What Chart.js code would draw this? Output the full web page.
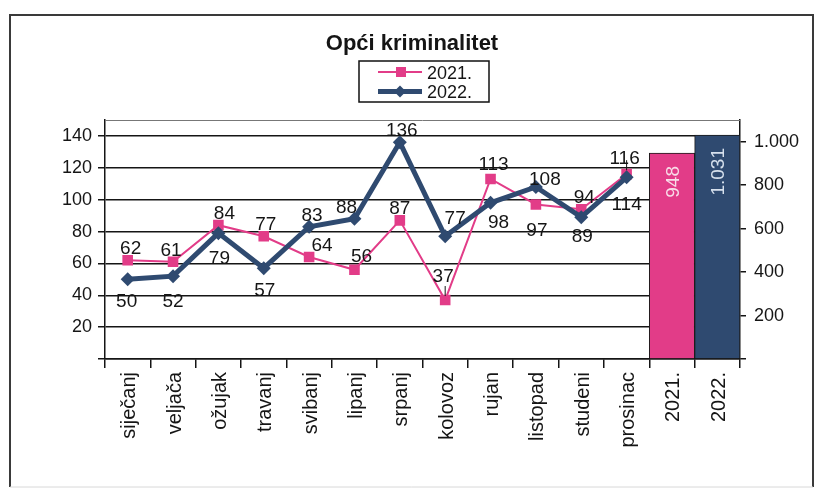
<!DOCTYPE html>
<html><head><meta charset="utf-8">
<script src="https://cdn.jsdelivr.net/npm/chart.js@4/dist/chart.umd.min.js"></script>
<style>html,body{margin:0;padding:0;background:#fff;}#wrap{width:815px;height:489px;}</style>
</head><body><div id="wrap"><canvas id="c" width="815" height="489"></canvas></div>
<script>
// ---- data ----
const categories = ['siječanj','veljača','ožujak','travanj','svibanj','lipanj','srpanj','kolovoz','rujan','listopad','studeni','prosinac','2021.','2022.'];
const months2021 = [62,61,84,77,64,56,87,37,113,97,94,116];
const months2022 = [50,52,79,57,83,88,136,77,98,108,89,114];
const totals = [948, 1031];
const seriesNames = ['2021.','2022.'];
const leftTicks = [20,40,60,80,100,120,140];
const rightTicks = [200,400,600,800,1000];
const chartTitle = 'Opći kriminalitet';

// ---- label placement (layout, not data) ----
const pos2021 = ['a','a','a','a','a','a','a','a','a','b','a','a'];
const dx2021  = [3,-2,6,2,13,7,0,-2,3,1,3,-2];
const dy2021  = [0,0,0,0,0,-2,0,-12,-3,4,0,-4];
const pos2022 = ['b','b','b','b','a','a','a','a','b','a','b','b'];
const dx2022  = [-1,0,1,1,3,-8,2,10,8,9,1,0];
const dy2022  = [0,3,3,0,0,0,0,-6,-2,4,-3,5];

const PINK = '#E23C88', NAVY = '#2F4A70', INK = '#151515';
const FONT = "'Liberation Sans', Arial, sans-serif";
Chart.defaults.font.family = FONT;
Chart.defaults.color = INK;

const fmt = v => String(v).replace(/\B(?=(\d{3})+(?!\d))/g, '.');
const pad = (arr, n) => arr.concat(new Array(n).fill(null));

const framePlugin = {
  id: 'frame',
  beforeDraw(chart) {
    const ctx = chart.ctx;
    ctx.save();
    ctx.fillStyle = '#fff';
    ctx.fillRect(0, 0, chart.width, chart.height);
    ctx.strokeStyle = '#3a3a3a';
    ctx.lineWidth = 2;
    ctx.beginPath();
    ctx.moveTo(10, 487); ctx.lineTo(10, 15); ctx.lineTo(813, 15); ctx.lineTo(813, 487);
    ctx.stroke();
    ctx.strokeStyle = '#d8d8d8';
    ctx.lineWidth = 1;
    ctx.beginPath(); ctx.moveTo(10, 487); ctx.lineTo(813, 487); ctx.stroke();
    ctx.restore();
  },
  beforeDatasetsDraw(chart) {
    const {ctx, chartArea: a} = chart;
    ctx.save();
    ctx.strokeStyle = '#777';
    ctx.lineWidth = 1;
    ctx.beginPath(); ctx.moveTo(a.left, a.top + 0.5); ctx.lineTo(a.right, a.top + 0.5); ctx.stroke();
    ctx.restore();
  }
};

const labelPlugin = {
  id: 'labels',
  afterDatasetsDraw(chart) {
    const ctx = chart.ctx;
    ctx.save();
    ctx.font = '19px ' + FONT;
    ctx.fillStyle = INK;
    ctx.textAlign = 'center';
    ctx.textBaseline = 'alphabetic';
    const cap = 13.6;
    const sets = [
      {idx: 0, vals: months2021, pos: pos2021, dx: dx2021, dy: dy2021},
      {idx: 1, vals: months2022, pos: pos2022, dx: dx2022, dy: dy2022}
    ];
    sets.forEach(s => {
      const meta = chart.getDatasetMeta(s.idx);
      s.vals.forEach((v, i) => {
        const p = meta.data[i];
        let y = s.pos[i] === 'a' ? p.y - 6 : p.y + 14 + cap;
        y += s.dy[i];
        ctx.fillText(String(v), p.x + s.dx[i], y);
      });
    });
    // small leader lines (kolovoz 2021, prosinac 2021)
    const m0 = chart.getDatasetMeta(0);
    ctx.strokeStyle = INK; ctx.lineWidth = 1;
    [7, 11].forEach(i => {
      const p = m0.data[i];
      ctx.beginPath(); ctx.moveTo(p.x, p.y - 14); ctx.lineTo(p.x, p.y - 4); ctx.stroke();
    });
    // bar labels, rotated
    const mb = chart.getDatasetMeta(2);
    ctx.font = '19px ' + FONT;
    ctx.textAlign = 'right';
    ctx.textBaseline = 'alphabetic';
    const barTextColors = ['#F8DCE8', '#D6E0EC'];
    totals.forEach((v, j) => {
      const el = mb.data[categories.length - 2 + j];
      ctx.save();
      ctx.translate(el.x + 6.8, el.y + 13);
      ctx.rotate(-Math.PI / 2);
      ctx.fillStyle = barTextColors[j];
      ctx.fillText(fmt(v), 0, 0);
      ctx.restore();
    });
    ctx.restore();
  }
};

const titleLegendPlugin = {
  id: 'titleLegend',
  afterDraw(chart) {
    const ctx = chart.ctx;
    ctx.save();
    ctx.fillStyle = INK;
    ctx.font = 'bold 22px ' + FONT;
    ctx.textAlign = 'center';
    ctx.textBaseline = 'alphabetic';
    ctx.fillText(chartTitle, 412, 50);
    // legend box
    ctx.strokeStyle = '#111';
    ctx.lineWidth = 1.5;
    ctx.strokeRect(359, 61, 130, 41);
    const rows = [
      {y: 72, color: PINK, lw: 2, shape: 'rect'},
      {y: 91.5, color: NAVY, lw: 5, shape: 'diamond'}
    ];
    ctx.font = '18px ' + FONT;
    ctx.textAlign = 'left';
    rows.forEach((r, k) => {
      ctx.strokeStyle = r.color; ctx.lineWidth = r.lw;
      ctx.beginPath(); ctx.moveTo(378, r.y); ctx.lineTo(422, r.y); ctx.stroke();
      ctx.fillStyle = r.color;
      if (r.shape === 'rect') { ctx.fillRect(396, r.y - 5, 10, 10); }
      else { ctx.beginPath(); ctx.moveTo(400, r.y - 6); ctx.lineTo(406, r.y); ctx.lineTo(400, r.y + 6); ctx.lineTo(394, r.y); ctx.closePath(); ctx.fill(); }
      ctx.fillStyle = INK;
      ctx.fillText(seriesNames[k], 427, r.y + 6.5);
    });
    ctx.restore();
  }
};

new Chart(document.getElementById('c'), {
  type: 'bar',
  data: {
    labels: categories,
    datasets: [
      {type: 'line', label: seriesNames[0], data: pad(months2021, 2), yAxisID: 'y', order: 1,
       borderColor: PINK, backgroundColor: PINK, borderWidth: 2, pointStyle: 'rect', pointRadius: 7.5,
       pointBorderWidth: 0, pointBackgroundColor: PINK, tension: 0, spanGaps: false},
      {type: 'line', label: seriesNames[1], data: pad(months2022, 2), yAxisID: 'y', order: 0,
       borderColor: NAVY, backgroundColor: NAVY, borderWidth: 5, pointStyle: 'rectRot', pointRadius: 7,
       pointBorderWidth: 0, pointBackgroundColor: NAVY, tension: 0, spanGaps: false},
      {type: 'bar', label: 'ukupno', data: new Array(12).fill(null).concat(totals), yAxisID: 'y2', order: 2,
       backgroundColor: [...new Array(12).fill(PINK), PINK, NAVY], borderColor: '#1a1a1a', borderWidth: 1,
       barPercentage: 1, categoryPercentage: 1}
    ]
  },
  options: {
    responsive: false, animation: false, devicePixelRatio: 1,
    layout: {padding: {top: 120, left: 0, right: 0, bottom: 0}},
    plugins: {legend: {display: false}, title: {display: false}, tooltip: {enabled: false}},
    scales: {
      x: {
        offset: true,
        grid: {offset: true, drawOnChartArea: false, drawTicks: true, tickLength: 9, color: INK, lineWidth: 1.5},
        border: {color: INK, width: 1.5},
        ticks: {minRotation: 90, maxRotation: 90, autoSkip: false, padding: 4, labelOffset: 2, font: {size: 20}, color: INK},
        afterFit(s) { s.height = 130; }
      },
      y: {
        position: 'left', min: 0, max: 150,
        afterBuildTicks(s) { s.ticks = [0, ...leftTicks].map(v => ({value: v})); },
        grid: {color: INK, lineWidth: 1.5, tickLength: 7, tickColor: INK},
        border: {color: INK, width: 1.5},
        ticks: {padding: 6, font: {size: 18}, color: INK, callback: v => (v === 0 ? '' : String(v))},
        afterFit(s) { s.width = 105; }
      },
      y2: {
        position: 'right', min: 0, max: 1100,
        afterBuildTicks(s) { s.ticks = [0, ...rightTicks].map(v => ({value: v})); },
        grid: {drawOnChartArea: false, tickLength: 6, color: INK, tickColor: INK, lineWidth: 1.5},
        border: {color: INK, width: 1.5},
        ticks: {padding: 8, font: {size: 18}, color: INK, callback: v => (v === 0 ? '' : fmt(v))},
        afterFit(s) { s.width = 75; }
      }
    }
  },
  plugins: [framePlugin, labelPlugin, titleLegendPlugin]
});
</script>
</body></html>
